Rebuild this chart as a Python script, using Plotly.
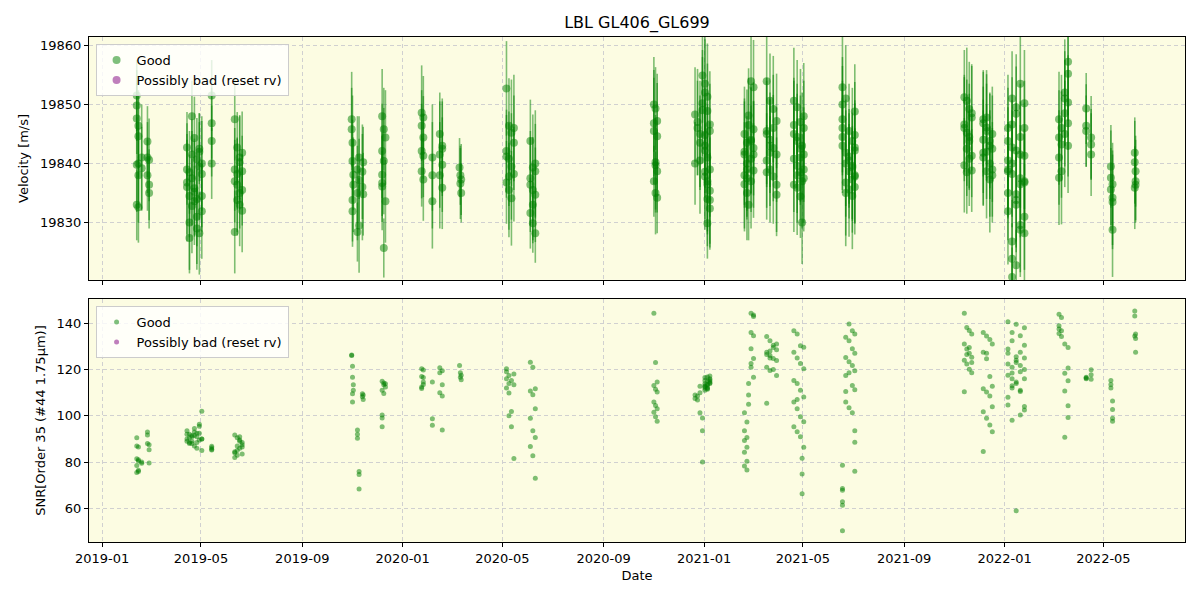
import plotly.graph_objects as go
from plotly.subplots import make_subplots

# ---- data ----
obs_date = [
    # Feb 2019
    "2019-02-12", "2019-02-12", "2019-02-12", "2019-02-12", "2019-02-12",
    "2019-02-14", "2019-02-14", "2019-02-14", "2019-02-14", "2019-02-14",
    "2019-02-18", "2019-02-18", "2019-02-25", "2019-02-25", "2019-02-25",
    "2019-02-27", "2019-02-27", "2019-02-27",
    # Apr-May 2019
    "2019-04-14", "2019-04-17", "2019-04-20", "2019-04-23", "2019-04-26", "2019-04-29", "2019-05-02",
    "2019-04-14", "2019-04-17", "2019-04-20", "2019-04-23", "2019-04-26", "2019-04-29", "2019-05-02",
    "2019-04-14", "2019-04-17", "2019-04-20", "2019-04-23", "2019-04-26", "2019-04-29", "2019-05-02",
    "2019-04-14", "2019-04-17", "2019-04-20", "2019-04-23", "2019-04-26", "2019-04-29", "2019-05-02",
    "2019-05-14", "2019-05-14", "2019-05-14", "2019-05-14",
    # Jun 2019
    "2019-06-11", "2019-06-14", "2019-06-17", "2019-06-20", "2019-06-11", "2019-06-14", "2019-06-17",
    "2019-06-20", "2019-06-11", "2019-06-14", "2019-06-17", "2019-06-20", "2019-06-11", "2019-06-14",
    "2019-06-17", "2019-06-20",
    # Oct-Nov 2019
    "2019-10-31", "2019-10-31", "2019-11-01", "2019-11-01", "2019-11-02", "2019-11-02", "2019-11-01",
    "2019-11-01", "2019-11-07", "2019-11-07", "2019-11-07", "2019-11-09", "2019-11-09", "2019-11-09",
    "2019-11-13", "2019-11-13", "2019-11-14", "2019-11-14",
    # Dec 2019
    "2019-12-07", "2019-12-09", "2019-12-11", "2019-12-07", "2019-12-09", "2019-12-07", "2019-12-07",
    "2019-12-07", "2019-12-11", "2019-12-09",
    # Jan-Feb 2020
    "2020-01-24", "2020-01-26", "2020-01-24", "2020-01-26", "2020-01-24", "2020-01-26", "2020-01-24",
    "2020-01-26", "2020-02-06", "2020-02-06", "2020-02-06", "2020-02-15", "2020-02-18", "2020-02-15",
    "2020-02-18", "2020-02-15", "2020-02-18", "2020-02-18",
    # Mar 2020
    "2020-03-10", "2020-03-11", "2020-03-11", "2020-03-12", "2020-03-12",
    # May 2020
    "2020-05-06", "2020-05-09", "2020-05-12", "2020-05-15", "2020-05-06", "2020-05-09", "2020-05-12",
    "2020-05-15", "2020-05-06", "2020-05-09", "2020-05-12", "2020-05-15", "2020-05-06", "2020-05-09",
    # Jun 2020
    "2020-06-04", "2020-06-07", "2020-06-10", "2020-06-04", "2020-06-07", "2020-06-10", "2020-06-04",
    "2020-06-07", "2020-06-10", "2020-06-04", "2020-06-07", "2020-06-10",
    # Nov 2020
    "2020-11-01", "2020-11-03", "2020-11-05", "2020-11-01", "2020-11-03", "2020-11-05", "2020-11-01",
    "2020-11-03", "2020-11-05", "2020-11-01", "2020-11-03", "2020-11-05",
    # Dec 2020 - Jan 2021
    "2020-12-21", "2020-12-24", "2020-12-21", "2020-12-24", "2020-12-27", "2020-12-27", "2020-12-30",
    "2021-01-02", "2020-12-30", "2020-12-30", "2021-01-02", "2021-01-05", "2021-01-08", "2021-01-02",
    "2021-01-05", "2021-01-08", "2021-01-02", "2021-01-05", "2021-01-08", "2021-01-02", "2021-01-05",
    "2021-01-08", "2021-01-02", "2021-01-05", "2021-01-08", "2021-01-05", "2020-12-27", "2021-01-02",
    "2021-01-05", "2021-01-08",
    # Feb-Mar 2021
    "2021-02-19", "2021-02-22", "2021-02-19", "2021-02-22", "2021-02-19", "2021-02-22", "2021-02-19",
    "2021-02-22", "2021-02-19", "2021-02-22", "2021-02-24", "2021-02-24", "2021-02-24", "2021-02-27",
    "2021-03-02", "2021-02-27", "2021-03-02", "2021-02-27", "2021-03-02", "2021-02-27", "2021-03-02",
    "2021-02-27", "2021-03-02",
    # Mar-Apr 2021
    "2021-03-18", "2021-03-22", "2021-03-26", "2021-03-30", "2021-03-18", "2021-03-22", "2021-03-26",
    "2021-03-30", "2021-03-18", "2021-03-22", "2021-03-26", "2021-03-30", "2021-03-18", "2021-03-22",
    "2021-03-26", "2021-03-30", "2021-03-18", "2021-03-22",
    # Apr-May 2021
    "2021-04-20", "2021-04-24", "2021-04-28", "2021-05-02", "2021-04-20", "2021-04-24", "2021-04-28",
    "2021-05-02", "2021-04-20", "2021-04-24", "2021-04-28", "2021-05-02", "2021-04-20", "2021-04-24",
    "2021-04-28", "2021-05-02", "2021-04-20", "2021-04-24", "2021-04-28", "2021-05-02", "2021-04-30",
    "2021-04-30", "2021-04-30", "2021-04-24",
    # Jun-Jul 2021
    "2021-06-18", "2021-06-18", "2021-06-18", "2021-06-18", "2021-06-18", "2021-06-18", "2021-06-22",
    "2021-06-26", "2021-06-30", "2021-07-03", "2021-06-22", "2021-06-26", "2021-06-30", "2021-07-03",
    "2021-06-22", "2021-06-26", "2021-06-30", "2021-07-03", "2021-06-22", "2021-06-26", "2021-06-30",
    "2021-07-03", "2021-06-22", "2021-06-26", "2021-06-30", "2021-07-03", "2021-07-03", "2021-07-03",
    # Nov 2021
    "2021-11-13", "2021-11-16", "2021-11-19", "2021-11-22", "2021-11-13", "2021-11-16", "2021-11-19",
    "2021-11-22", "2021-11-13", "2021-11-16", "2021-11-19", "2021-11-22", "2021-11-13", "2021-11-16",
    "2021-11-19", "2021-11-22",
    # Dec 2021
    "2021-12-06", "2021-12-10", "2021-12-14", "2021-12-17", "2021-12-06", "2021-12-10", "2021-12-14",
    "2021-12-17", "2021-12-06", "2021-12-10", "2021-12-14", "2021-12-17", "2021-12-06", "2021-12-10",
    "2021-12-14", "2021-12-17", "2021-12-06", "2021-12-10",
    # Jan 2022
    "2022-01-05", "2022-01-15", "2022-01-25", "2022-01-10", "2022-01-20",
    "2022-01-10", "2022-01-25", "2022-01-05", "2022-01-20", "2022-01-15",
    "2022-01-15", "2022-01-05", "2022-01-20", "2022-01-25", "2022-01-10",
    "2022-01-10", "2022-01-15", "2022-01-10", "2022-01-20", "2022-01-05",
    "2022-01-25", "2022-01-20", "2022-01-10", "2022-01-15", "2022-01-05",
    "2022-01-25", "2022-01-15", "2022-01-10", "2022-01-20", "2022-01-05",
    "2022-01-25", "2022-01-15", "2022-01-10", "2022-01-20", "2022-01-05",
    "2022-01-25",
    # Mar 2022
    "2022-03-08", "2022-03-11", "2022-03-08", "2022-03-11", "2022-03-08", "2022-03-11", "2022-03-08",
    "2022-03-15", "2022-03-19", "2022-03-15", "2022-03-19", "2022-03-15", "2022-03-19", "2022-03-19",
    "2022-03-15", "2022-03-19",
    # Apr 2022
    "2022-04-10", "2022-04-10", "2022-04-10", "2022-04-16", "2022-04-16", "2022-04-16",
    # May 2022
    "2022-05-10", "2022-05-10", "2022-05-10", "2022-05-12", "2022-05-12", "2022-05-12", "2022-05-12",
    # Jun 2022
    "2022-06-08", "2022-06-08", "2022-06-09", "2022-06-09", "2022-06-09", "2022-06-08",
]

rv = [
    19851.5, 19849.8, 19847.6, 19839.8, 19833.0,
    19846.4, 19844.6, 19840.0, 19838.0, 19832.6,
    19841.0, 19839.2, 19843.7, 19841.0, 19838.0,
    19836.4, 19835.0, 19840.6,
    19839.0, 19834.5, 19837.5, 19833.6, 19831.0, 19828.2, 19838.2,
    19836.0, 19827.4, 19832.8, 19835.2, 19829.0, 19842.0, 19840.0,
    19836.8, 19830.0, 19848.0, 19844.3, 19834.0, 19839.5, 19831.9,
    19842.7, 19838.5, 19841.5, 19835.8, 19840.7, 19842.5, 19834.5,
    19851.5, 19846.8, 19843.8, 19840.0,
    19847.5, 19842.7, 19841.0, 19838.7, 19837.0, 19833.8, 19840.2,
    19835.5, 19839.0, 19836.4, 19833.0, 19832.0, 19828.4, 19838.2,
    19835.0, 19841.8,
    19847.5, 19845.8, 19843.5, 19840.4, 19838.1, 19836.4, 19833.8,
    19831.9, 19828.4, 19839.0, 19835.0, 19837.2, 19829.5, 19841.0,
    19838.6, 19836.0, 19834.8, 19840.2,
    19848.0, 19845.8, 19844.4, 19842.1, 19840.4, 19838.1, 19836.7,
    19836.1, 19833.6, 19825.7,
    19848.6, 19847.8, 19846.4, 19844.4, 19842.1, 19841.3, 19838.7,
    19837.3, 19841.0, 19838.0, 19833.6, 19845.0, 19843.0, 19841.5,
    19839.8, 19838.0, 19835.9, 19842.5,
    19839.3, 19838.0, 19836.6, 19835.0, 19837.3,
    19852.7, 19846.4, 19845.2, 19843.5, 19842.1, 19840.8, 19839.5,
    19838.2, 19836.8, 19835.5, 19834.1, 19846.0, 19841.2, 19837.8,
    19843.8, 19839.3, 19838.7, 19836.4, 19835.5, 19834.7, 19831.6,
    19829.9, 19828.2, 19837.5, 19833.0, 19840.0,
    19850.0, 19849.3, 19847.2, 19845.5, 19839.7, 19838.7, 19837.0,
    19835.0, 19834.2, 19846.8, 19840.2, 19844.6,
    19848.3, 19847.0, 19840.0, 19846.0, 19845.0, 19843.5, 19850.2,
    19853.5, 19849.0, 19854.9, 19852.0, 19848.9, 19846.6, 19844.8,
    19851.3, 19845.5, 19843.0, 19841.0, 19839.0, 19837.8, 19836.5,
    19835.4, 19838.6, 19834.0, 19832.4, 19829.9, 19840.5, 19842.2,
    19837.0, 19833.8,
    19838.0, 19835.0, 19842.0, 19840.0, 19836.5, 19843.5, 19845.0,
    19839.0, 19841.5, 19837.5, 19848.1, 19833.0, 19846.5, 19853.9,
    19852.9, 19844.0, 19842.6, 19840.8, 19838.8, 19843.8, 19845.8,
    19837.0, 19841.5,
    19853.9, 19850.6, 19849.2, 19847.2, 19845.5, 19844.0, 19842.6,
    19841.5, 19840.5, 19839.0, 19837.8, 19836.4, 19845.0, 19843.0,
    19846.0, 19834.7, 19838.5, 19841.8,
    19850.6, 19849.5, 19847.0, 19846.0, 19845.0, 19843.8, 19842.5,
    19841.5, 19840.8, 19839.6, 19838.5, 19837.5, 19836.4, 19835.9,
    19834.4, 19848.0, 19846.5, 19844.5, 19841.0, 19839.0, 19837.0,
    19830.0, 19843.0, 19838.0,
    19852.9, 19850.0, 19847.5, 19846.0, 19844.5, 19843.0, 19841.8,
    19840.5, 19839.3, 19838.0, 19836.8, 19835.6, 19834.5, 19848.8,
    19851.0, 19845.5, 19843.8, 19842.2, 19840.0, 19838.7, 19837.3,
    19836.0, 19835.0, 19841.2, 19839.6, 19842.7, 19844.8, 19837.8,
    19851.2, 19850.6, 19849.2, 19847.8, 19846.6, 19845.2, 19843.8,
    19841.3, 19839.7, 19838.5, 19844.5, 19848.5, 19846.0, 19842.5,
    19840.8, 19838.8,
    19847.5, 19846.1, 19843.8, 19842.5, 19841.0, 19838.7, 19837.3,
    19845.0, 19844.0, 19842.0, 19840.0, 19839.0, 19846.8, 19847.8,
    19843.0, 19838.0, 19841.8, 19845.5,
    19846.0, 19848.4, 19850.2, 19846.6, 19844.5, 19842.7, 19841.3,
    19838.7, 19836.5, 19834.8, 19833.0, 19831.9, 19829.6, 19828.2,
    19826.8, 19823.9, 19822.8, 19820.8, 19837.5, 19835.0, 19831.0,
    19828.8, 19840.0, 19833.8, 19843.8, 19846.0, 19849.5, 19851.0,
    19841.5, 19839.0, 19836.8, 19842.2, 19838.2, 19853.5, 19840.5,
    19837.0,
    19847.5, 19846.0, 19844.4, 19843.2, 19841.0, 19838.7, 19837.6,
    19845.0, 19843.0, 19848.5, 19850.3, 19852.0, 19855.2, 19857.2,
    19851.0, 19846.8,
    19849.3, 19846.4, 19845.5, 19844.4, 19843.2, 19841.5,
    19839.5, 19837.6, 19835.6, 19834.2, 19828.8, 19836.5, 19833.5,
    19841.8, 19840.2, 19838.7, 19837.0, 19836.4, 19835.9,
]

rv_err = [
    6, 6, 6, 8, 6,
    6, 7, 7, 8, 6,
    9, 7, 6, 6, 6,
    6, 6, 7,
    6, 7, 8, 6, 8, 7, 9,
    8, 6, 8, 9, 7, 5, 8,
    10, 8, 6, 7, 8, 9, 8,
    6, 7, 6, 8, 7, 6, 6,
    6, 6, 6, 6,
    7, 6, 7, 6, 7, 6, 8,
    6, 7, 8, 7, 7, 7, 6,
    6, 7,
    8, 7, 8, 7, 6, 8, 7,
    6, 5, 9, 8, 7, 8, 7,
    8, 9, 7, 6,
    8, 7, 8, 8, 9, 7, 8,
    6, 7, 5,
    8, 7, 6, 7, 8, 7, 6,
    7, 9, 9, 8, 7, 8, 9,
    8, 9, 7, 8,
    5, 5, 6, 5, 6,
    8, 8, 9, 8, 7, 8, 9,
    8, 7, 8, 8, 9, 7, 9,
    7, 9, 8, 8, 9, 8, 6,
    5, 5, 8, 6, 9,
    8, 7, 8, 9, 8, 7, 6,
    7, 6, 9, 8, 9,
    8, 9, 7, 8, 9, 8, 9,
    8, 9, 8, 9, 8, 9, 8,
    9, 8, 8, 9, 8, 9, 8,
    9, 8, 8, 7, 6, 9, 8,
    9, 8,
    9, 8, 9, 8, 8, 9, 8,
    8, 9, 7, 8, 6, 8, 9,
    8, 9, 8, 9, 8, 9, 8,
    8, 9,
    9, 8, 9, 8, 9, 8, 9,
    8, 8, 9, 8, 8, 9, 8,
    9, 7, 8, 9,
    9, 8, 9, 8, 9, 8, 9,
    8, 9, 8, 8, 9, 8, 8,
    7, 9, 8, 9, 8, 9, 8,
    7, 9, 8,
    9, 8, 9, 8, 9, 8, 9,
    8, 9, 8, 9, 8, 9, 8,
    9, 8, 9, 8, 9, 8, 9,
    8, 9, 8, 9, 8, 9, 8,
    8, 9, 8, 9, 8, 9, 8,
    7, 8, 7, 9, 8, 9, 8,
    8, 7,
    8, 9, 8, 9, 8, 8, 9,
    8, 9, 8, 9, 8, 9, 8,
    9, 8, 9, 8,
    9, 8, 9, 8, 9, 8, 9,
    8, 9, 8, 8, 9, 8, 8,
    7, 6, 6, 5, 9, 8, 9,
    8, 9, 8, 9, 8, 9, 8,
    9, 8, 9, 8, 9, 8, 9,
    8,
    8, 9, 8, 9, 8, 9, 8,
    9, 8, 9, 8, 9, 8, 9,
    8, 9,
    6, 7, 6, 7, 6, 7,
    7, 8, 7, 8, 8, 7, 8,
    6, 7, 6, 7, 6, 7,
]

snr = [
    81.5, 78.5, 75.5, 87.0, 90.5,
    81.0, 76.5, 80.5, 86.5, 76.0,
    80.0, 79.5, 93.0, 91.7, 88.0,
    85.3, 87.5, 79.6,
    93.5, 88.0, 91.0, 87.0, 92.5, 95.5, 90.0,
    89.0, 88.5, 91.5, 93.0, 86.0, 89.5, 85.0,
    92.0, 90.5, 88.0, 94.5, 91.0, 96.3, 102.0,
    90.0, 92.0, 89.0, 91.5, 88.5, 92.5, 90.0,
    86.8, 86.2, 85.6, 85.2,
    91.7, 90.5, 89.5, 88.5, 84.5, 87.0, 86.0,
    83.5, 82.0, 85.0, 91.0, 87.5, 84.0, 83.0,
    89.0, 86.5,
    126.3, 126.0, 121.4, 116.7, 113.4, 111.0, 109.5,
    106.0, 93.9, 92.0, 90.3, 76.0, 74.6, 68.4,
    109.5, 108.2, 107.0, 109.0,
    114.9, 113.4, 112.4, 111.0, 109.6, 100.3, 99.1,
    95.3, 113.8, 114.2,
    120.3, 119.8, 117.0, 114.6, 112.4, 113.5, 111.8,
    116.5, 114.6, 98.7, 95.9, 120.7, 119.5, 118.6,
    113.4, 110.0, 108.6, 93.9,
    121.7, 118.6, 116.7, 115.6, 117.5,
    120.3, 117.4, 115.3, 113.4, 112.0, 109.9, 101.9,
    118.0, 119.0, 100.0, 95.3, 81.6, 116.0, 114.0,
    123.1, 121.0, 111.7, 110.7, 109.1, 103.1, 98.9,
    93.6, 90.6, 86.7, 82.7, 73.0,
    144.3, 123.0, 114.6, 113.1, 111.5, 110.3, 106.0,
    104.5, 103.0, 101.5, 99.6, 97.7,
    107.5, 108.5, 109.0, 106.8, 110.0, 101.3, 99.1,
    112.0, 93.6, 80.0, 111.0, 113.5, 114.0, 112.5,
    115.0, 116.0, 113.0, 111.8, 114.8, 116.5, 112.2,
    115.5, 113.8, 111.5, 114.2, 116.8, 112.8, 115.2,
    113.3, 117.2,
    101.3, 97.3, 93.6, 90.6, 89.3, 86.4, 84.3,
    80.4, 78.3, 76.6, 105.0, 109.0, 113.9, 121.0,
    116.7, 122.6, 124.7, 129.0, 134.6, 136.0, 142.9,
    144.3, 143.5,
    134.3, 132.4, 130.5, 128.5, 127.4, 126.0, 124.8,
    123.9, 121.0, 119.6, 129.5, 131.0, 126.5, 125.0,
    120.0, 117.4, 105.4, 128.0,
    136.7, 135.3, 130.3, 129.6, 127.4, 125.0, 122.6,
    120.3, 115.3, 113.9, 111.0, 108.1, 106.0, 103.1,
    99.6, 97.4, 95.3, 93.1, 91.0, 86.4, 81.7,
    74.9, 66.3, 107.0,
    50.4, 61.4, 62.9, 67.9, 68.6, 78.6, 110.5,
    139.7, 136.7, 135.3, 133.9, 132.4, 129.0, 127.0,
    125.2, 123.3, 121.7, 119.5, 117.4, 118.6, 113.1,
    111.3, 106.0, 103.5, 101.3, 93.6, 88.6, 76.1,
    144.3, 138.1, 136.8, 135.3, 131.0, 128.9, 127.0,
    125.3, 124.0, 122.4, 120.1, 118.6, 110.4, 126.5,
    129.5, 123.0,
    136.0, 134.5, 133.0, 131.0, 127.4, 124.6, 117.0,
    112.8, 111.7, 110.3, 108.6, 103.9, 101.7, 98.9,
    96.0, 93.1, 84.6, 127.0,
    140.6, 139.5, 138.0, 136.0, 134.6, 132.4, 130.5,
    128.9, 127.4, 125.5, 124.0, 122.4, 121.7, 120.0,
    118.5, 116.0, 114.6, 113.0, 111.0, 104.7, 102.5,
    100.3, 98.1, 59.0, 127.0, 125.0, 123.0, 121.0,
    119.0, 117.5, 116.0, 114.0, 112.0, 110.5, 108.0,
    104.0,
    143.9, 142.4, 138.9, 136.7, 135.5, 134.3, 137.5,
    131.0, 120.6, 118.4, 115.1, 110.7, 104.3, 99.3,
    90.7, 129.5,
    116.7, 116.0, 116.3, 119.9, 117.7, 115.8,
    115.3, 113.5, 112.0, 106.4, 102.7, 98.9, 97.7,
    145.3, 143.1, 135.3, 133.4, 127.4, 134.5,
]

# no points were flagged as "possibly bad" in this dataset
bad_date = []
bad_rv = []
bad_err = []
bad_snr = []

title_text = "LBL GL406_GL699"
x_range = ["2018-12-16", "2022-08-08"]
rv_range = [19820.3, 19861.4]
snr_range = [45.5, 150.4]

GOOD = "rgba(0,128,0,0.5)"
BAD = "rgba(128,0,128,0.5)"
BG = "#fcfce2"
FONT = "DejaVu Sans"

fig = make_subplots(rows=2, cols=1, shared_xaxes=True, vertical_spacing=0.038)

fig.add_trace(go.Scatter(
    x=obs_date, y=rv, mode="markers", name="Good",
    marker=dict(color=GOOD, size=8, line=dict(width=0)),
    error_y=dict(type="data", array=rv_err, visible=True, color=GOOD, thickness=1.6, width=0),
    legend="legend"), row=1, col=1)
fig.add_trace(go.Scatter(
    x=bad_date if bad_date else [None], y=bad_rv if bad_rv else [None], mode="markers",
    name="Possibly bad (reset rv)",
    marker=dict(color=BAD, size=8, line=dict(width=0)),
    error_y=dict(type="data", array=bad_err if bad_err else [0], visible=True, color=BAD, thickness=1.6, width=0),
    legend="legend"), row=1, col=1)

fig.add_trace(go.Scatter(
    x=obs_date, y=snr, mode="markers", name="Good",
    marker=dict(color=GOOD, size=5, line=dict(width=0)),
    legend="legend2"), row=2, col=1)
fig.add_trace(go.Scatter(
    x=bad_date if bad_date else [None], y=bad_snr if bad_snr else [None], mode="markers",
    name="Possibly bad (reset rv)",
    marker=dict(color=BAD, size=5, line=dict(width=0)),
    legend="legend2"), row=2, col=1)

axis_common = dict(
    showline=True, linecolor="black", linewidth=1, mirror=True,
    ticks="outside", ticklen=4, tickcolor="black",
    showgrid=True, gridcolor="#d0d0d0", griddash="4px,3px", gridwidth=0.8,
    zeroline=False, tickfont=dict(family=FONT, size=13, color="black"),
)

fig.update_xaxes(**axis_common)
fig.update_yaxes(**axis_common)

fig.update_xaxes(range=x_range, tick0="2019-01-01", dtick="M4", tickformat="%Y-%m",
                 showticklabels=False, row=1, col=1)
fig.update_xaxes(range=x_range, tick0="2019-01-01", dtick="M4", tickformat="%Y-%m",
                 title=dict(text="Date", font=dict(family=FONT, size=13, color="black"), standoff=6),
                 row=2, col=1)
fig.update_yaxes(range=rv_range, dtick=10, tick0=19830, tickformat="d",
                 title=dict(text="Velocity [m/s]", font=dict(family=FONT, size=13, color="black"), standoff=8),
                 row=1, col=1)
fig.update_yaxes(range=snr_range, dtick=20, tick0=60, tickformat="d",
                 title=dict(text="SNR[Order 35 (#44 1.75μm)]", font=dict(family=FONT, size=13, color="black"), standoff=8),
                 row=2, col=1)

legend_style = dict(
    bgcolor="rgba(255,255,255,0.8)", bordercolor="#cccccc", borderwidth=1,
    font=dict(family=FONT, size=13, color="black"),
    xanchor="left", yanchor="top", x=0.006, itemsizing="trace", tracegroupgap=2,
)

fig.update_layout(
    width=1200, height=600,
    margin=dict(l=89, r=15, t=37, b=58),
    paper_bgcolor="white", plot_bgcolor=BG,
    title=dict(text=title_text, x=0.5, xref="paper", y=0.962, yanchor="middle",
               font=dict(family=FONT, size=16, color="black")),
    legend=dict(**legend_style, y=0.986),
    legend2=dict(**legend_style, y=0.467),
    showlegend=True,
)

fig.write_html("out.html")
